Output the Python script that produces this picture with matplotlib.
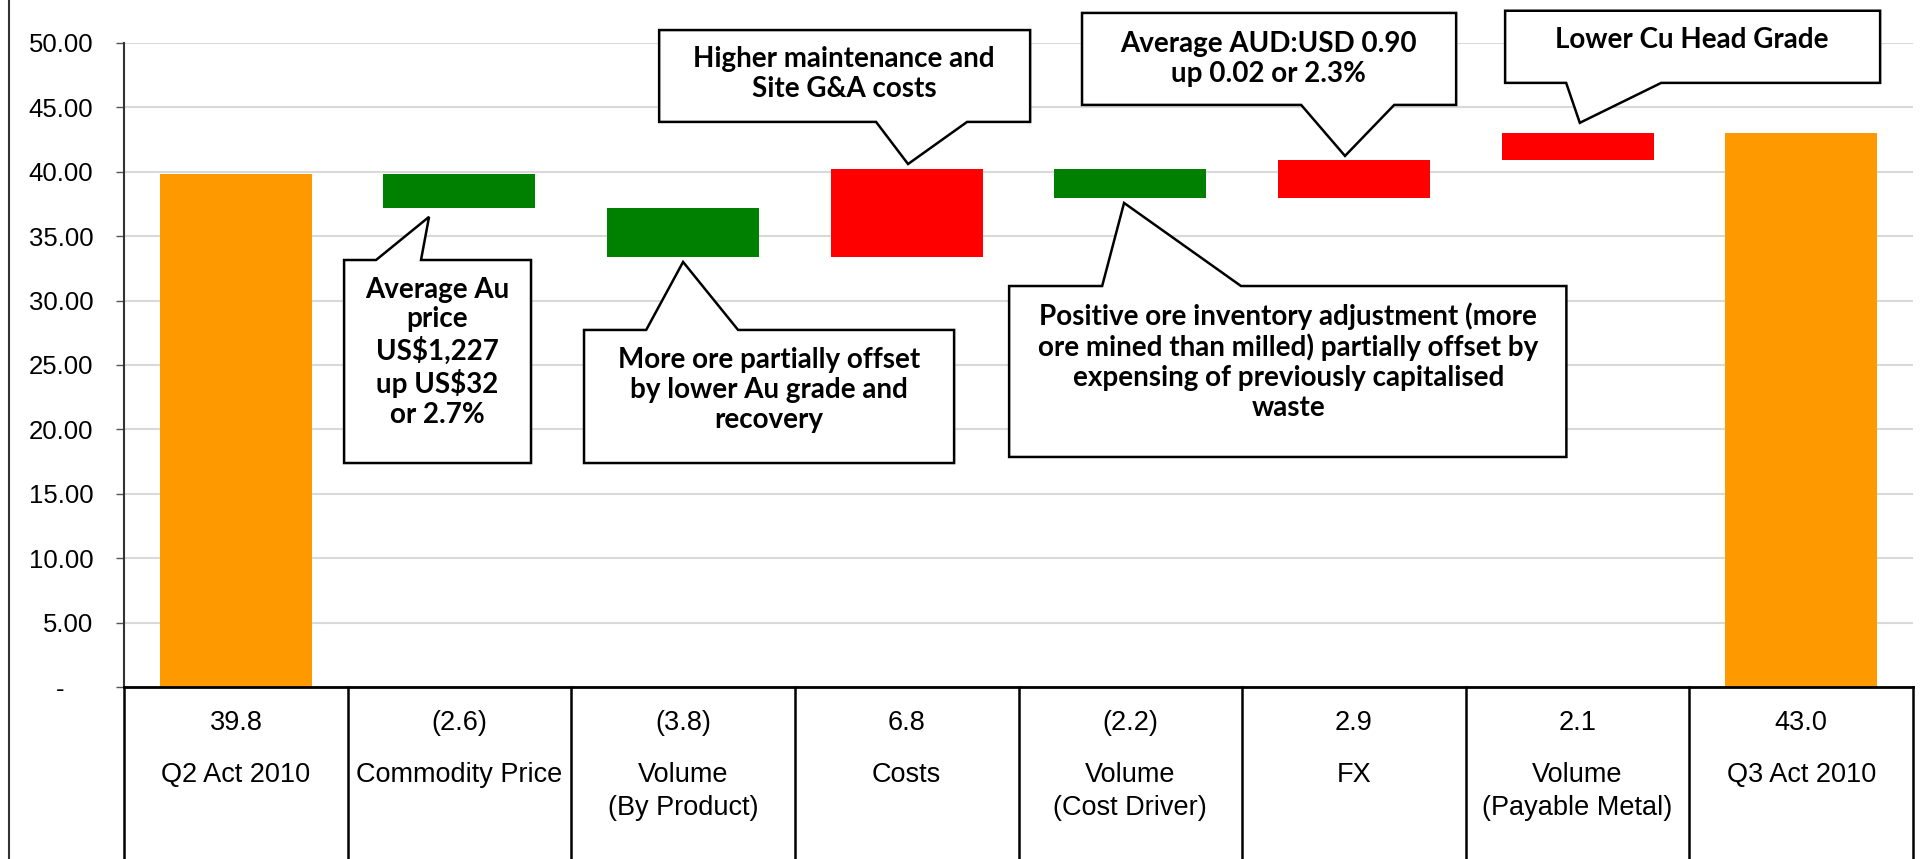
import numpy as np
import matplotlib.pyplot as plt
from matplotlib.patches import Polygon
from matplotlib.lines import Line2D
from matplotlib.transforms import ScaledTranslation

# waterfall data
categories = ["Q2 Act 2010", "Commodity Price", "Volume\n(By Product)", "Costs",
              "Volume\n(Cost Driver)", "FX", "Volume\n(Payable Metal)", "Q3 Act 2010"]
values = [39.8, -2.6, -3.8, 6.8, -2.2, 2.9, 2.1, 43.0]
is_total = [True, False, False, False, False, False, False, True]
value_labels = ["39.8", "(2.6)", "(3.8)", "6.8", "(2.2)", "2.9", "2.1", "43.0"]
yticks = [0, 5, 10, 15, 20, 25, 30, 35, 40, 45, 50]
ytick_labels = ["-", "5.00", "10.00", "15.00", "20.00", "25.00", "30.00",
                "35.00", "40.00", "45.00", "50.00"]

# callout texts
note_texts = [
    "Average Au\nprice\nUS$1,227\nup US$32\nor 2.7%",
    "Higher maintenance and\nSite G&A costs",
    "More ore partially offset\nby lower Au grade and\nrecovery",
    "Average AUD:USD 0.90\nup 0.02 or 2.3%",
    "Lower Cu Head Grade",
    "Positive ore inventory adjustment (more\nore mined than milled) partially offset by\nexpensing of previously capitalised\nwaste",
]
# box (x0, x1, y0, y1), pointer base (xa, xb), tip (xt, yt), text centre (xc, yc)
note_boxes = [(0.484, 1.32, 17.39, 33.15), (1.893, 3.552, 43.87, 51.0),
              (1.557, 3.212, 17.39, 27.72), (3.784, 5.457, 45.19, 52.33),
              (5.676, 7.353, 46.9, 52.5), (3.458, 5.95, 17.86, 31.13)]
note_bases = [(0.627, 0.828), (2.863, 3.270), (1.835, 2.246),
              (4.764, 5.18), (5.949, 6.374), (3.874, 4.495)]
note_tips = [(0.864, 36.5), (3.006, 40.6), (2.0, 33.0),
             (4.96, 41.23), (6.01, 43.8), (3.972, 37.58)]
note_centres = [(0.9, 26.0), (2.72, 47.6), (2.385, 23.06),
                (4.617, 48.76), (6.51, 50.23), (4.706, 25.27)]

ORANGE = "#FF9900"
GREEN = "#008000"
RED = "#FF0000"

fig = plt.figure(figsize=(19.23, 8.59), dpi=100)
ax = fig.add_axes([0.0645, 0.2002, 0.9303, 0.7498])

x = np.arange(len(categories))
bottoms = []
heights = []
colors = []
running = 0.0
for v, tot in zip(values, is_total):
    if tot:
        bottoms.append(0)
        heights.append(v)
        colors.append(ORANGE)
        running = v
    else:
        bottoms.append(min(running, running + v))
        heights.append(abs(v))
        colors.append(RED if v > 0 else GREEN)
        running += v

ax.bar(x, heights, bottom=bottoms, width=0.68, color=colors, zorder=2)

ax.set_xlim(-0.5, len(categories) - 0.5)
ax.set_ylim(0, 50)
ax.set_yticks(yticks)
ax.set_yticklabels(ytick_labels, family="Liberation Sans", fontsize=18.5)
ax.tick_params(axis="y", length=6, width=1, color="#555555", pad=16)
ax.set_xticks([])
# shift the "-" label left like the excel accounting format
lab0 = ax.get_yticklabels()[0]
lab0.set_transform(lab0.get_transform() + ScaledTranslation(-0.29, 0, fig.dpi_scale_trans))
ax.grid(axis="y", color="#d9d9d9", lw=1.5, zorder=0)
ax.set_axisbelow(True)
for s in ["top", "right", "bottom"]:
    ax.spines[s].set_visible(False)
ax.spines["left"].set_color("#333333")
ax.spines["left"].set_linewidth(1.5)

# data table under the chart
ax.plot([-0.5, len(categories) - 0.5], [0, 0], color="black", lw=2, clip_on=False, zorder=3)
for b in np.arange(-0.5, len(categories), 1.0):
    ax.plot([b, b], [0, -15], color="black", lw=1.8, clip_on=False, zorder=3)
for i in range(len(categories)):
    ax.text(i, -2.8, value_labels[i], ha="center", va="center",
            family="Liberation Sans", fontsize=19.5, clip_on=False)
    for k, line in enumerate(categories[i].split("\n")):
        ax.text(i, -6.83 - 2.57 * k, line, ha="center", va="center",
                family="Liberation Sans", fontsize=19.5, clip_on=False)

# callouts
for txt, box, base, tip, cen in zip(note_texts, note_boxes, note_bases, note_tips, note_centres):
    x0, x1, y0, y1 = box
    xa, xb = base
    xt, yt = tip
    if yt > y1:
        pts = [(x0, y1), (xa, y1), (xt, yt), (xb, y1), (x1, y1), (x1, y0), (x0, y0)]
    else:
        pts = [(x0, y1), (x1, y1), (x1, y0), (xb, y0), (xt, yt), (xa, y0), (x0, y0)]
    ax.add_patch(Polygon(pts, closed=True, facecolor="white", edgecolor="black",
                         lw=1.8, zorder=4, clip_on=False))
    ax.text(cen[0], cen[1], txt, ha="center", va="center", family="Lato",
            fontweight="bold", fontsize=20, linespacing=1.18, zorder=5, clip_on=False)

fig.add_artist(Line2D([0.0045, 0.0045], [0, 1], transform=fig.transFigure,
                      color="#333333", lw=1.5))

fig.savefig("out.png", dpi=100)
